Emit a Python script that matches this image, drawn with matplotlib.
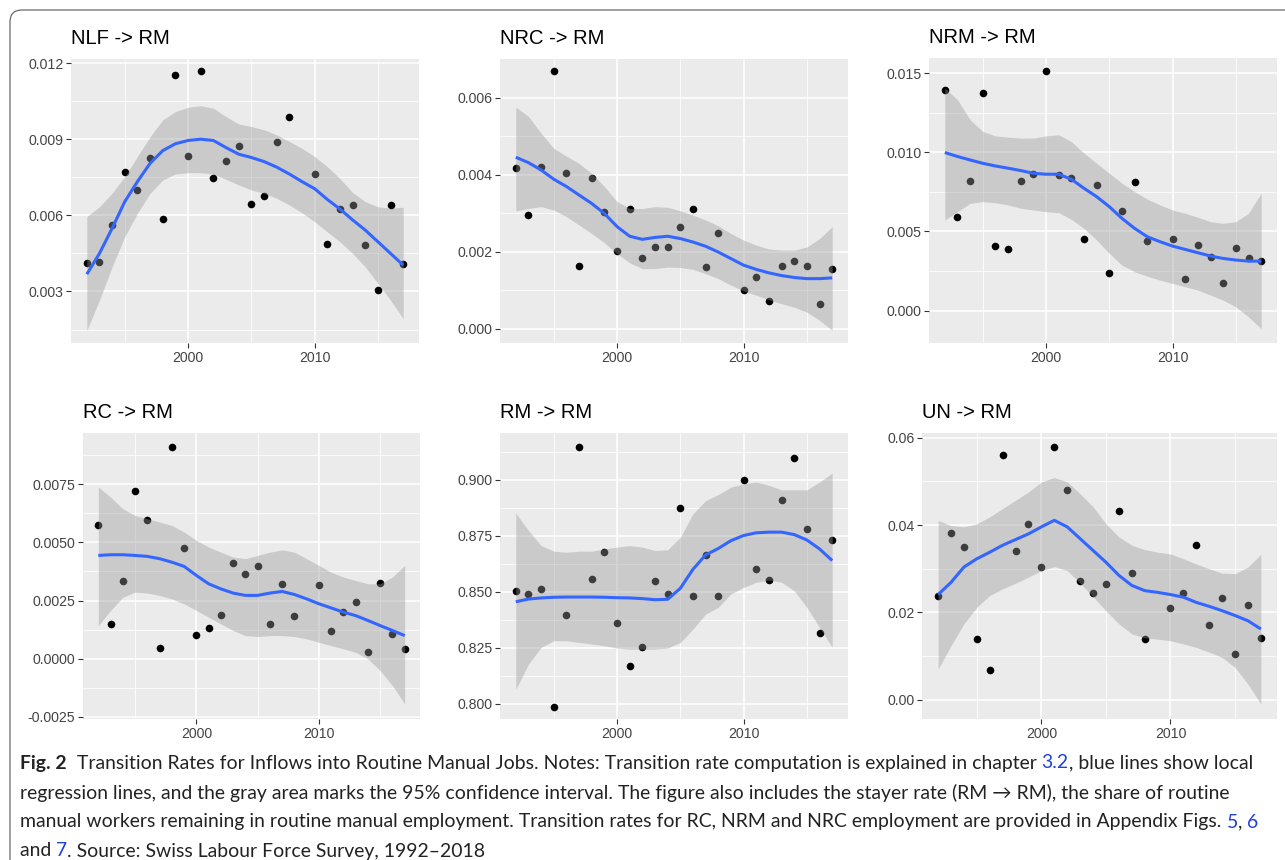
import matplotlib
matplotlib.use('Agg')
import matplotlib.pyplot as plt
from matplotlib.patches import FancyBboxPatch
from matplotlib import font_manager

# survey years with an observation (no 2009 wave)
point_years = [1992, 1993, 1994, 1995, 1996, 1997, 1998, 1999, 2000, 2001, 2002, 2003, 2004,
               2005, 2006, 2007, 2008, 2010, 2011, 2012, 2013, 2014, 2015, 2016, 2017]
fit_years = [1992, 1993, 1994, 1995, 1996, 1997, 1998, 1999, 2000, 2001, 2002, 2003, 2004,
             2005, 2006, 2007, 2008, 2009, 2010, 2011, 2012, 2013, 2014, 2015, 2016, 2017]

# NLF -> RM
nlf_pts = [0.00413, 0.00417, 0.00563, 0.00772, 0.00701, 0.00826, 0.00586, 0.01154, 0.00832,
           0.01168, 0.00746, 0.00814, 0.00874, 0.00645, 0.00675, 0.00888, 0.00989, 0.00762,
           0.00488, 0.00626, 0.00642, 0.00484, 0.00305, 0.00642, 0.00409]
nlf_fit = [0.00368, 0.00450, 0.00549, 0.00654, 0.00733, 0.00805, 0.00855, 0.00882, 0.00895,
           0.00900, 0.00895, 0.00867, 0.00841, 0.00828, 0.00812, 0.00790, 0.00763, 0.00733,
           0.00705, 0.00663, 0.00625, 0.00582, 0.00542, 0.00496, 0.00450, 0.00404]
nlf_hi = [0.00595, 0.00634, 0.00687, 0.00753, 0.00832, 0.00910, 0.00976, 0.01009, 0.01026,
          0.01032, 0.01022, 0.00989, 0.00960, 0.00950, 0.00937, 0.00917, 0.00891, 0.00864,
          0.00832, 0.00792, 0.00745, 0.00690, 0.00654, 0.00634, 0.00628, 0.00632]
nlf_lo = [0.00147, 0.00266, 0.00397, 0.00516, 0.00608, 0.00687, 0.00739, 0.00763, 0.00768,
          0.00768, 0.00763, 0.00742, 0.00720, 0.00700, 0.00687, 0.00667, 0.00641, 0.00610,
          0.00575, 0.00535, 0.00496, 0.00450, 0.00397, 0.00332, 0.00266, 0.00193]

# NRC -> RM
nrc_pts = [0.00418, 0.00294, 0.00421, 0.00670, 0.00403, 0.00163, 0.00391, 0.00303, 0.00203,
           0.00310, 0.00183, 0.00212, 0.00211, 0.00265, 0.00310, 0.00161, 0.00248, 0.00100,
           0.00134, 0.00072, 0.00163, 0.00176, 0.00163, 0.00064, 0.00154]
nrc_fit = [0.00445, 0.00431, 0.00412, 0.00388, 0.00369, 0.00347, 0.00325, 0.00299, 0.00265,
           0.00240, 0.00232, 0.00237, 0.00240, 0.00234, 0.00225, 0.00214, 0.00199, 0.00182,
           0.00165, 0.00154, 0.00145, 0.00138, 0.00133, 0.00130, 0.00130, 0.00132]
nrc_hi = [0.00575, 0.00551, 0.00507, 0.00468, 0.00448, 0.00429, 0.00403, 0.00369, 0.00330,
          0.00312, 0.00312, 0.00317, 0.00315, 0.00306, 0.00295, 0.00282, 0.00267, 0.00247,
          0.00230, 0.00217, 0.00207, 0.00204, 0.00204, 0.00212, 0.00234, 0.00265]
nrc_lo = [0.00306, 0.00312, 0.00317, 0.00308, 0.00291, 0.00269, 0.00247, 0.00223, 0.00195,
          0.00171, 0.00156, 0.00156, 0.00160, 0.00159, 0.00154, 0.00143, 0.00130, 0.00113,
          0.00098, 0.00087, 0.00075, 0.00065, 0.00056, 0.00043, 0.00022, -0.00004]

# NRM -> RM
nrm_pts = [0.01395, 0.00591, 0.00819, 0.01376, 0.00409, 0.00386, 0.00819, 0.00863, 0.01515,
           0.00854, 0.00838, 0.00451, 0.00795, 0.00236, 0.00631, 0.00810, 0.00441, 0.00451,
           0.00200, 0.00416, 0.00338, 0.00175, 0.00392, 0.00333, 0.00314]
nrm_fit = [0.00998, 0.00973, 0.00951, 0.00930, 0.00913, 0.00899, 0.00884, 0.00867, 0.00861,
           0.00861, 0.00829, 0.00772, 0.00719, 0.00656, 0.00582, 0.00519, 0.00466, 0.00435,
           0.00407, 0.00386, 0.00365, 0.00344, 0.00329, 0.00319, 0.00312, 0.00312]
nrm_hi = [0.01405, 0.01331, 0.01205, 0.01131, 0.01103, 0.01095, 0.01089, 0.01089, 0.01103,
          0.01110, 0.01067, 0.00994, 0.00930, 0.00867, 0.00804, 0.00751, 0.00703, 0.00667,
          0.00635, 0.00614, 0.00589, 0.00561, 0.00551, 0.00561, 0.00614, 0.00741]
nrm_lo = [0.00572, 0.00624, 0.00677, 0.00688, 0.00681, 0.00667, 0.00646, 0.00635, 0.00624,
          0.00618, 0.00576, 0.00519, 0.00445, 0.00361, 0.00287, 0.00245, 0.00217, 0.00192,
          0.00171, 0.00150, 0.00129, 0.00097, 0.00065, 0.00023, -0.00040, -0.00114]

# RC -> RM
rc_pts = [0.00576, 0.00147, 0.00335, 0.00723, 0.00596, 0.00045, 0.00911, 0.00478, 0.00102,
          0.00131, 0.00188, 0.00412, 0.00364, 0.00397, 0.00147, 0.00319, 0.00182, 0.00315,
          0.00119, 0.00201, 0.00244, 0.00029, 0.00326, 0.00106, 0.00040]
rc_fit = [0.00444, 0.00447, 0.00447, 0.00444, 0.00440, 0.00430, 0.00415, 0.00397, 0.00358,
          0.00322, 0.00300, 0.00282, 0.00272, 0.00272, 0.00282, 0.00289, 0.00276, 0.00257,
          0.00236, 0.00218, 0.00200, 0.00185, 0.00164, 0.00142, 0.00121, 0.00099]
rc_hi = [0.00739, 0.00695, 0.00645, 0.00616, 0.00602, 0.00588, 0.00573, 0.00545, 0.00509,
         0.00480, 0.00458, 0.00437, 0.00430, 0.00444, 0.00458, 0.00468, 0.00458, 0.00430,
         0.00401, 0.00372, 0.00351, 0.00336, 0.00322, 0.00322, 0.00351, 0.00401]
rc_lo = [0.00142, 0.00207, 0.00264, 0.00286, 0.00282, 0.00272, 0.00257, 0.00236, 0.00207,
         0.00178, 0.00149, 0.00121, 0.00099, 0.00095, 0.00099, 0.00099, 0.00095, 0.00085,
         0.00070, 0.00056, 0.00042, 0.00027, -0.00001, -0.00052, -0.00116, -0.00195]

# RM -> RM (stayers)
rm_pts = [0.8501, 0.8490, 0.8513, 0.7984, 0.8396, 0.9146, 0.8557, 0.8679, 0.8361, 0.8166,
          0.8251, 0.8548, 0.8491, 0.8875, 0.8479, 0.8664, 0.8479, 0.8997, 0.8603, 0.8552,
          0.8909, 0.9096, 0.8778, 0.8315, 0.8730]
rm_fit = [0.8455, 0.8467, 0.8472, 0.8475, 0.8476, 0.8476, 0.8476, 0.8475, 0.8473, 0.8472,
          0.8469, 0.8464, 0.8466, 0.8515, 0.8600, 0.8664, 0.8693, 0.8728, 0.8751, 0.8763,
          0.8766, 0.8766, 0.8755, 0.8731, 0.8691, 0.8639]
rm_hi = [0.8851, 0.8773, 0.8706, 0.8681, 0.8676, 0.8681, 0.8681, 0.8691, 0.8699, 0.8706,
         0.8699, 0.8684, 0.8687, 0.8743, 0.8848, 0.8907, 0.8934, 0.8967, 0.8982, 0.8990,
         0.8975, 0.8955, 0.8955, 0.8955, 0.8990, 0.9030]
rm_lo = [0.8064, 0.8176, 0.8251, 0.8281, 0.8281, 0.8273, 0.8266, 0.8258, 0.8248, 0.8243,
         0.8243, 0.8243, 0.8248, 0.8273, 0.8333, 0.8400, 0.8430, 0.8490, 0.8519, 0.8542,
         0.8552, 0.8542, 0.8504, 0.8430, 0.8340, 0.8251]

# UN -> RM
un_pts = [0.0238, 0.0381, 0.0349, 0.0140, 0.0068, 0.0560, 0.0340, 0.0403, 0.0305, 0.0579,
          0.0480, 0.0272, 0.0244, 0.0266, 0.0432, 0.0290, 0.0140, 0.0210, 0.0244, 0.0355,
          0.0172, 0.0233, 0.0105, 0.0216, 0.0142]
un_fit = [0.0241, 0.0269, 0.0304, 0.0323, 0.0338, 0.0354, 0.0367, 0.0380, 0.0396, 0.0411,
          0.0396, 0.0369, 0.0342, 0.0315, 0.0285, 0.0262, 0.0250, 0.0246, 0.0241, 0.0235,
          0.0223, 0.0214, 0.0204, 0.0193, 0.0181, 0.0162]
un_hi = [0.0411, 0.0399, 0.0396, 0.0403, 0.0419, 0.0438, 0.0457, 0.0476, 0.0499, 0.0509,
         0.0499, 0.0472, 0.0442, 0.0403, 0.0373, 0.0354, 0.0344, 0.0338, 0.0334, 0.0323,
         0.0311, 0.0300, 0.0290, 0.0289, 0.0304, 0.0333]
un_lo = [0.0070, 0.0124, 0.0174, 0.0212, 0.0239, 0.0254, 0.0267, 0.0281, 0.0296, 0.0305,
         0.0296, 0.0267, 0.0236, 0.0204, 0.0174, 0.0151, 0.0142, 0.0139, 0.0135, 0.0128,
         0.0120, 0.0109, 0.0097, 0.0074, 0.0036, -0.0010]

x_ticks = [2000, 2010]
x_minor = [1995, 2005, 2015]

# title, points, fit, band, y ticks, y tick labels, y limits, axes rect (left, bottom, w, h) in px
panels = [
    ("NLF -> RM", nlf_pts, nlf_fit, nlf_lo, nlf_hi,
     [0.003, 0.006, 0.009, 0.012], ["0.003", "0.006", "0.009", "0.012"],
     (0.00097, 0.01216), (71, 343, 348, 284)),
    ("NRC -> RM", nrc_pts, nrc_fit, nrc_lo, nrc_hi,
     [0.000, 0.002, 0.004, 0.006], ["0.000", "0.002", "0.004", "0.006"],
     (-0.00037, 0.0070), (500, 343, 348, 284)),
    ("NRM -> RM", nrm_pts, nrm_fit, nrm_lo, nrm_hi,
     [0.000, 0.005, 0.010, 0.015], ["0.000", "0.005", "0.010", "0.015"],
     (-0.00205, 0.01595), (929, 343, 348, 285)),
    ("RC -> RM", rc_pts, rc_fit, rc_lo, rc_hi,
     [-0.0025, 0.0, 0.0025, 0.0050, 0.0075], ["-0.0025", "0.0000", "0.0025", "0.0050", "0.0075"],
     (-0.0026, 0.00971), (83, 719, 337, 286)),
    ("RM -> RM", rm_pts, rm_fit, rm_lo, rm_hi,
     [0.800, 0.825, 0.850, 0.875, 0.900], ["0.800", "0.825", "0.850", "0.875", "0.900"],
     (0.7931, 0.9209), (500, 719, 348, 286)),
    ("UN -> RM", un_pts, un_fit, un_lo, un_hi,
     [0.00, 0.02, 0.04, 0.06], ["0.00", "0.02", "0.04", "0.06"],
     (-0.0044, 0.0611), (922, 719, 355, 286)),
]

W, H = 1285, 860
plt.rcParams['font.family'] = ['Liberation Sans', 'DejaVu Sans']
fig = plt.figure(figsize=(W / 100, H / 100), dpi=100)

# page frame (rounded corner top-left)
frame = FancyBboxPatch((10, -30), 1320, H - 10 + 30, boxstyle="round,pad=0,rounding_size=12",
                       transform=None, fill=False, ec='#6b6b6b', lw=0.9)
fig.patches.append(frame)

for title, pts, fit, lo, hi, yt, ytl, ylim, rect in panels:
    left, bottom, w, h = rect
    ax = fig.add_axes([left / W, 1 - bottom / H, w / W, h / H])
    ax.set_facecolor('#EBEBEB')
    for s in ax.spines.values():
        s.set_visible(False)
    ax.set_xlim(1990.75, 2018.25)
    ax.set_ylim(*ylim)
    ax.set_xticks(x_ticks)
    ax.set_xticks(x_minor, minor=True)
    ax.set_yticks(yt)
    ax.set_yticklabels(ytl)
    step = yt[1] - yt[0]
    ymin = [yt[0] - step / 2 + i * step for i in range(len(yt) + 1)]
    ax.set_yticks([m for m in ymin if ylim[0] < m < ylim[1]], minor=True)
    ax.grid(True, which='major', color='white', lw=1.1)
    ax.grid(True, which='minor', color='white', lw=0.55)
    ax.set_axisbelow(True)
    ax.tick_params(which='major', length=3.5, width=0.8, color='#333333',
                   labelsize=10.2, labelcolor='#444444', pad=2)
    ax.tick_params(which='minor', length=0)

    ax.scatter(point_years, pts, s=30, color='black', zorder=2, linewidths=0)
    ax.fill_between(fit_years, lo, hi, color='#999999', alpha=0.4, lw=0, zorder=3)
    ax.plot(fit_years, fit, color='#3366FF', lw=2.2, zorder=4, solid_capstyle='butt')

    ax.annotate(title, xy=(0, 1), xycoords='axes fraction', xytext=(0, 14.5),
                textcoords='offset points', ha='left', va='center', fontsize=14.5,
                color='black')

# caption, drawn piece by piece so the figure references can be blue
installed = {f.name for f in font_manager.fontManager.ttflist}
cap_font = ['Lato', 'DejaVu Sans'] if 'Lato' in installed else ['DejaVu Sans']
link = '#1F3FE0'
txt = '#222222'
caption = [
    [("Fig. 2", txt, 'bold'),
     ("  Transition Rates for Inflows into Routine Manual Jobs. Notes: Transition rate computation is explained in chapter ", txt, 'normal'),
     ("3.2", link, 'normal'),
     (", blue lines show local", txt, 'normal')],
    [("regression lines, and the gray area marks the 95% confidence interval. The figure also includes the stayer rate (RM \u2192 RM), the share of routine", txt, 'normal')],
    [("manual workers remaining in routine manual employment. Transition rates for RC, NRM and NRC employment are provided in Appendix Figs. ", txt, 'normal'),
     ("5", link, 'normal'), (", ", txt, 'normal'), ("6", link, 'normal')],
    [("and ", txt, 'normal'), ("7", link, 'normal'),
     (". Source: Swiss Labour Force Survey, 1992\u20132018", txt, 'normal')],
]
line_y = [763, 793, 822, 851]
renderer = fig.canvas.get_renderer()

# size chosen so that the second (full) line spans about the page width like in the print
probe = fig.text(0, 0, caption[1][0][0], fontsize=10, family=cap_font)
pw = probe.get_window_extent(renderer).width
probe.remove()
cap_size = 10 * 1208 / pw

for segs, yy in zip(caption, line_y):
    x = 20
    for s, c, wgt in segs:
        t = fig.text(x / W, 1 - yy / H, s, color=c, fontweight=wgt, fontsize=cap_size,
                     family=cap_font, ha='left', va='center')
        x = t.get_window_extent(renderer).x1

fig.savefig('out.png', dpi=100)
